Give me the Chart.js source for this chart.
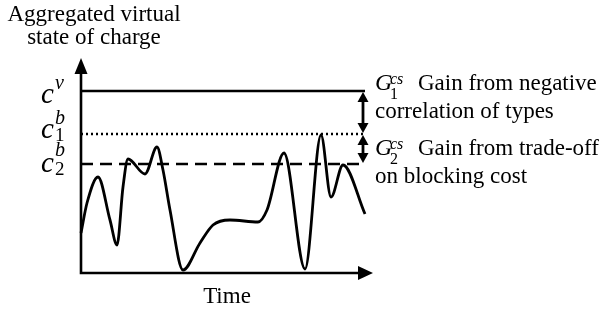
<!DOCTYPE html>
<html><head><meta charset="utf-8">
<script src="https://cdn.jsdelivr.net/npm/chart.js@4.4.1/dist/chart.umd.min.js"></script>
<style>
html,body{margin:0;padding:0;background:#fff;}
#wrap{position:relative;width:603px;height:309px;overflow:hidden;background:#fff;}
#c{position:absolute;left:0;top:0;}
.t{position:absolute;font-family:"Liberation Serif","Times New Roman",serif;color:#000;line-height:1;white-space:nowrap;}
.i{font-style:italic;}
</style></head><body>
<div id="wrap"><canvas id="c" width="603" height="309"></canvas></div>
<script>
// ---- data ----
const timeValues   = [0, 6, 17, 29, 36, 42, 47, 64, 76, 82, 89, 102, 119, 132, 149, 177, 186, 203, 224, 240, 250, 262, 284];
const chargeValues = [40, 70, 96, 53, 28, 86, 114, 99, 126, 103, 63, 3, 30, 48, 53, 51, 63, 120, 4, 138, 76, 108, 59];
const levelNames  = ['cv', 'c1b', 'c2b'];
const levelValues = [182, 139, 109];
const levelSpan   = [0, 284];
const gainArrowAt = 282;
const yTitle = ['Aggregated virtual', 'state of charge'];
const xTitle = 'Time';
const gainText = [['Gain from negative', 'correlation of types'], ['Gain from trade-off', 'on blocking cost']];

// ---- chart ----
const lineStyles = [[], [2, 3], [12, 7]];
const levelSets = levelValues.map((v, i) => ({
  label: levelNames[i],
  data: levelSpan.map(x => ({x, y: v})),
  borderColor: '#000', borderWidth: 2.3, borderDash: lineStyles[i],
  pointRadius: 0, fill: false, clip: false, tension: 0
}));

function arrowHead(ctx, x, y, dx, dy, len, hw) {
  const px = -dy, py = dx;
  ctx.beginPath();
  ctx.moveTo(x, y);
  ctx.lineTo(x - dx * len + px * hw, y - dy * len + py * hw);
  ctx.lineTo(x - dx * len - px * hw, y - dy * len - py * hw);
  ctx.closePath();
  ctx.fill();
}

const decor = {
  id: 'decor',
  afterDatasetsDraw(chart) {
    const {ctx, scales: {x, y}} = chart;
    const x0 = x.getPixelForValue(0), y0 = y.getPixelForValue(0);
    const xEnd = x.getPixelForValue(x.max), yEnd = y.getPixelForValue(y.max);
    ctx.save();
    ctx.strokeStyle = '#000'; ctx.fillStyle = '#000';
    ctx.lineWidth = 2.6; ctx.lineCap = 'butt';
    ctx.beginPath();
    ctx.moveTo(x0, y0 + 1.3); ctx.lineTo(x0, yEnd + 10);
    ctx.moveTo(x0 - 1.3, y0); ctx.lineTo(xEnd - 10, y0);
    ctx.stroke();
    arrowHead(ctx, x0, yEnd, 0, -1, 16, 6.5);
    arrowHead(ctx, xEnd, y0, 1, 0, 15, 7);
    // gain arrows
    const ax = x.getPixelForValue(gainArrowAt);
    const ys = levelValues.map(v => y.getPixelForValue(v));
    ctx.lineWidth = 2.8;
    for (let k = 0; k < 2; k++) {
      const a = ys[k], b = ys[k + 1];
      ctx.beginPath(); ctx.moveTo(ax, a + 7); ctx.lineTo(ax, b - 7); ctx.stroke();
      arrowHead(ctx, ax, a + 1, 0, -1, 10, 5.5);
      arrowHead(ctx, ax, b - 1, 0, 1, 10, 5.5);
    }
    ctx.restore();
  }
};

new Chart(document.getElementById('c'), {
  type: 'line',
  data: {
    datasets: [{
      label: 'Aggregated virtual state of charge',
      data: timeValues.map((t, i) => ({x: t, y: chargeValues[i]})),
      borderColor: '#000', borderWidth: 2.8, pointRadius: 0, fill: false,
      cubicInterpolationMode: 'monotone', clip: false
    }, ...levelSets]
  },
  options: {
    responsive: false, animation: false, devicePixelRatio: 1,
    layout: {padding: {left: 81, right: 230, top: 58, bottom: 36}},
    scales: {
      x: {type: 'linear', min: 0, max: 292, display: false},
      y: {type: 'linear', min: 0, max: 215, display: false}
    },
    plugins: {legend: {display: false}, tooltip: {enabled: false}}
  },
  plugins: [decor]
});

// ---- text (real HTML text) ----
const wrap = document.getElementById('wrap');
function put(html, left, baseline, size, opts = {}) {
  const d = document.createElement('div');
  d.className = 't' + (opts.italic ? ' i' : '');
  d.style.fontSize = size + 'px';
  d.style.top = (baseline - 0.8375 * size) + 'px';
  if (opts.center) { d.style.left = (left - 150) + 'px'; d.style.width = '300px'; d.style.textAlign = 'center'; }
  else d.style.left = left + 'px';
  d.innerHTML = html;
  wrap.appendChild(d);
}
put(yTitle[0], 94, 21, 23, {center: true});
put(yTitle[1], 94, 44, 23, {center: true});
put(xTitle, 227, 303, 23, {center: true});
// level labels
put('c', 41, 103, 29, {italic: true}); put('v', 55, 89, 20, {italic: true});
put('c', 41, 138, 29, {italic: true}); put('b', 55, 124, 20, {italic: true}); put('1', 55, 141, 19);
put('c', 41, 172, 29, {italic: true}); put('b', 55, 156, 20, {italic: true}); put('2', 55, 175, 19);
// gain labels
const gBase = [90, 155];
gBase.forEach((b, k) => {
  put('G', 375, b, 24, {italic: true});
  put('cs', 390, b - 6, 16, {italic: true});
  put(String(k + 1), 390, b + 9, 16);
  put(gainText[k][0], 418, b, 23);
  put(gainText[k][1], 375, b + 28, 23);
});
</script>
</body></html>
